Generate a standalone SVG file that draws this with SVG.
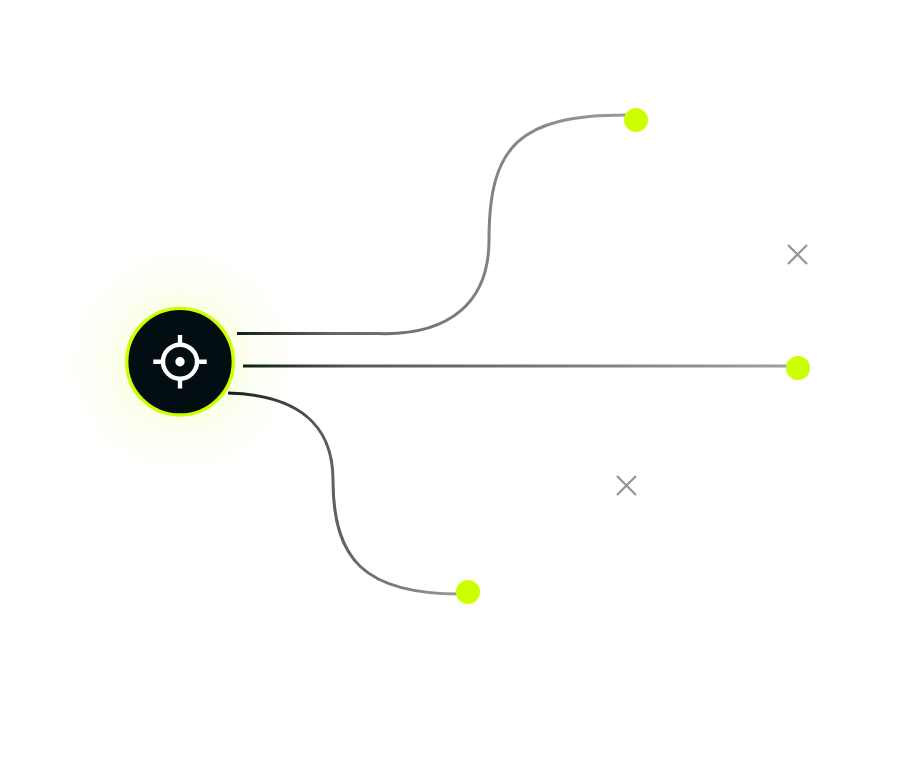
<svg xmlns="http://www.w3.org/2000/svg" width="897" height="759" viewBox="0 0 897 759">
  <style>
    .wire { fill: none; stroke-width: 3; }
    .dot { fill: #ccff00; }
    .cross { fill: none; stroke: #949494; stroke-width: 2.2; }
    .icon { fill: none; stroke: #ffffff; stroke-width: 4.4; }
  </style>
  <defs>
    <radialGradient id="glow" gradientUnits="userSpaceOnUse" cx="180" cy="362" r="125">
      <stop offset="0.4" stop-color="#ccff00" stop-opacity="0.11"/>
      <stop offset="0.6" stop-color="#ccff00" stop-opacity="0.05"/>
      <stop offset="0.8" stop-color="#ccff00" stop-opacity="0.015"/>
      <stop offset="1" stop-color="#ccff00" stop-opacity="0"/>
    </radialGradient>
    <linearGradient id="wireTop" gradientUnits="userSpaceOnUse" x1="237" y1="0" x2="626" y2="0">
      <stop offset="0" stop-color="#0f1f14"/>
      <stop offset="0.25" stop-color="#666666"/>
      <stop offset="1" stop-color="#9a9a9a"/>
    </linearGradient>
    <linearGradient id="wireMid" gradientUnits="userSpaceOnUse" x1="243" y1="0" x2="790" y2="0">
      <stop offset="0" stop-color="#0f1f14"/>
      <stop offset="0.2" stop-color="#585858"/>
      <stop offset="1" stop-color="#a0a0a0"/>
    </linearGradient>
    <linearGradient id="wireBot" gradientUnits="userSpaceOnUse" x1="228" y1="0" x2="460" y2="0">
      <stop offset="0" stop-color="#0f1f14"/>
      <stop offset="0.4" stop-color="#5a5a5a"/>
      <stop offset="1" stop-color="#999999"/>
    </linearGradient>
  </defs>
  <rect width="897" height="759" fill="#ffffff"/>
  <circle cx="180" cy="362" r="125" fill="url(#glow)"/>
  <g id="connectors">
    <path class="wire" stroke="url(#wireTop)" d="M237 333.500H378C450 336 489 302 489 240C489 145 520 115 626 115"/>
    <path class="wire" stroke="url(#wireMid)" d="M243 366H790"/>
    <path class="wire" stroke="url(#wireBot)" d="M228 393C298 395 333 425 333 480C333 560 365 594 460 594"/>
  </g>
  <g id="hub">
    <circle cx="180" cy="361.7" r="53.300" fill="#020e12" stroke="#ccff00" stroke-width="3.4"/>
    <circle class="icon" cx="180" cy="361.7" r="17"/>
    <circle cx="180" cy="361.7" r="4.7" fill="#ffffff"/>
    <path class="icon" d="M180 335V345M180 378.500V388.500M153.300 361.700H163.300M196.700 361.700H206.700"/>
  </g>
  <g id="end-top"><circle class="dot" cx="636" cy="120" r="12"/></g>
  <g id="end-mid"><circle class="dot" cx="798" cy="368" r="12"/></g>
  <g id="end-bot"><circle class="dot" cx="468" cy="592" r="12"/></g>
  <g id="cross-top"><path class="cross" d="M788 245L807 264M807 245L788 264"/></g>
  <g id="cross-bot"><path class="cross" d="M617 476L636 495M636 476L617 495"/></g>
</svg>
